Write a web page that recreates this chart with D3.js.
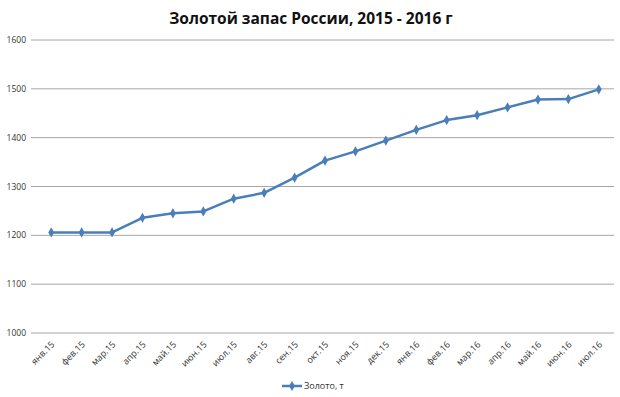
<!DOCTYPE html>
<html>
<head>
<meta charset="utf-8">
<script src="https://cdn.jsdelivr.net/npm/d3@7"></script>
<style>
  body { margin: 0; background: #fff; }
  text { font-family: "Open Sans", "DejaVu Sans", sans-serif; }
</style>
</head>
<body>
<div id="chart"></div>
<script>
var months = ["янв.15","фев.15","мар.15","апр.15","май.15","июн.15","июл.15","авг.15","сен.15",
  "окт.15","ноя.15","дек.15","янв.16","фев.16","мар.16","апр.16","май.16","июн.16","июл.16"];
var gold = [1206, 1206, 1206, 1236, 1245, 1249, 1275, 1287, 1318,
  1353, 1372, 1394, 1416, 1436, 1446, 1462, 1478, 1479, 1499];
var yTicks = [1000, 1100, 1200, 1300, 1400, 1500, 1600];
var seriesName = "Золото, т";
var title = "Золотой запас России, 2015 - 2016 г";

var width = 620, height = 397;
var margin = {left: 36, right: 6, top: 40, bottom: 64};

var svg = d3.select("#chart").append("svg")
  .attr("width", width).attr("height", height);

var x = d3.scaleBand().domain(months)
  .range([margin.left, width - margin.right]);
var y = d3.scaleLinear().domain([1000, 1600])
  .range([height - margin.bottom, margin.top]);

svg.append("text")
  .attr("x", 311).attr("y", 24)
  .attr("text-anchor", "middle")
  .attr("font-size", 15.5).attr("font-weight", "bold")
  .attr("fill", "#111")
  .text(title);

// gridlines
svg.append("g").selectAll("line").data(yTicks).join("line")
  .attr("x1", margin.left - 5).attr("x2", width - margin.right)
  .attr("y1", d => y(d)).attr("y2", d => y(d))
  .attr("stroke", "#a6a6a6").attr("stroke-width", 1);

// y axis labels
svg.append("g").selectAll("text").data(yTicks).join("text")
  .attr("x", 26).attr("y", d => y(d) + 3)
  .attr("text-anchor", "end")
  .attr("font-size", 8.5).attr("fill", "#333")
  .text(d => d);

// x axis labels
svg.append("g").selectAll("text").data(months).join("text")
  .attr("transform", d => "translate(" + (x(d) + x.bandwidth() / 2 + 4) + "," + (y(1000) + 12) + ") rotate(-45)")
  .attr("text-anchor", "end")
  .attr("font-size", 9).attr("fill", "#333")
  .text(d => d);

var color = "#4a7ebb";
var line = d3.line()
  .x((d, i) => x(months[i]) + x.bandwidth() / 2)
  .y(d => y(d));

svg.append("path").datum(gold)
  .attr("d", line)
  .attr("fill", "none")
  .attr("stroke", color).attr("stroke-width", 2.5)
  .attr("stroke-linejoin", "round");

var diamond = d3.symbol().type(d3.symbolDiamond).size(30);
svg.append("g").selectAll("path").data(gold).join("path")
  .attr("d", diamond)
  .attr("transform", (d, i) => "translate(" + (x(months[i]) + x.bandwidth() / 2) + "," + y(d) + ")")
  .attr("fill", color);

// legend
var lg = svg.append("g").attr("transform", "translate(282,386)");
lg.append("line").attr("x1", 0).attr("x2", 20).attr("y1", 0).attr("y2", 0)
  .attr("stroke", color).attr("stroke-width", 2.5);
lg.append("path").attr("d", diamond).attr("transform", "translate(10,0)").attr("fill", color);
lg.append("text").attr("x", 22).attr("y", 3)
  .attr("font-size", 9).attr("fill", "#333")
  .text(seriesName);
</script>
</body>
</html>
